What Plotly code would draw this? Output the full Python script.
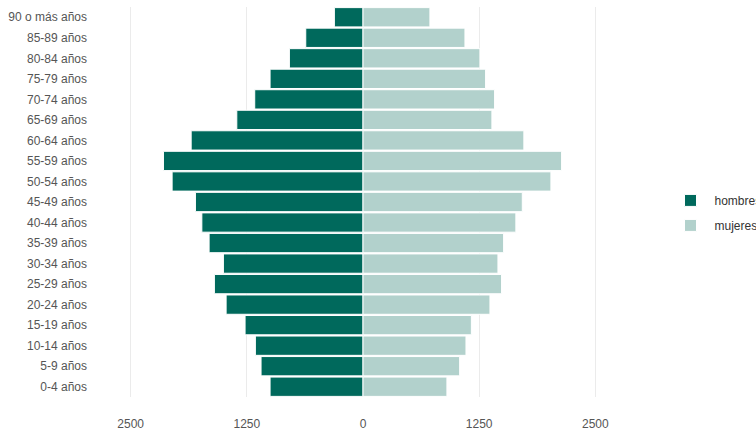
import plotly.graph_objects as go

edades = ["0-4 años", "5-9 años", "10-14 años", "15-19 años", "20-24 años", "25-29 años",
          "30-34 años", "35-39 años", "40-44 años", "45-49 años", "50-54 años", "55-59 años",
          "60-64 años", "65-69 años", "70-74 años", "75-79 años", "80-84 años", "85-89 años",
          "90 o más años"]
hombres = [1000, 1097, 1158, 1269, 1473, 1599, 1502, 1656, 1734, 1803, 2054, 2147,
           1849, 1358, 1165, 1000, 792, 616, 308]
mujeres = [903, 1040, 1108, 1166, 1366, 1491, 1452, 1513, 1645, 1714, 2022, 2137,
           1731, 1387, 1416, 1319, 1258, 1097, 720]
tick_vals = [-2500, -1250, 0, 1250, 2500]
tick_text = ["2500", "1250", "0", "1250", "2500"]

fig = go.Figure()
fig.add_trace(go.Bar(y=edades, x=[-v for v in hombres], name="hombres", orientation="h",
                     legendgroup="h",
                     marker=dict(color="#00695c", line=dict(color="white", width=1))))
fig.add_trace(go.Bar(y=edades, x=mujeres, name="mujeres", orientation="h",
                     legendgroup="m",
                     marker=dict(color="#b2d1cc", line=dict(color="white", width=1))))

fig.update_layout(
    width=756, height=435,
    barmode="relative", bargap=0.06,
    plot_bgcolor="white", paper_bgcolor="white",
    margin=dict(l=100, r=130, t=7, b=38, autoexpand=False),
    font=dict(family="Liberation Sans, Arial, sans-serif", size=12, color="#555555"),
    xaxis=dict(range=[-2830, 2830], tickvals=tick_vals, ticktext=tick_text,
               showgrid=True, gridcolor="#ebebeb", gridwidth=1, zeroline=False,
               showline=False, ticks="", ticklabelstandoff=18, fixedrange=True,
               automargin=False),
    yaxis=dict(categoryorder="array", categoryarray=edades, showgrid=False,
               zeroline=False, showline=False, ticks="", ticklabelstandoff=12,
               automargin=False),
    legend=dict(x=1.077, xanchor="left", y=0.472, yanchor="middle",
                font=dict(size=12, color="#333333"), traceorder="grouped",
                tracegroupgap=6, itemwidth=38),
    showlegend=True,
)

fig.write_html("out.html", config={"displayModeBar": False},
               post_script="document.body.style.margin='0';document.body.style.overflow='hidden';")
